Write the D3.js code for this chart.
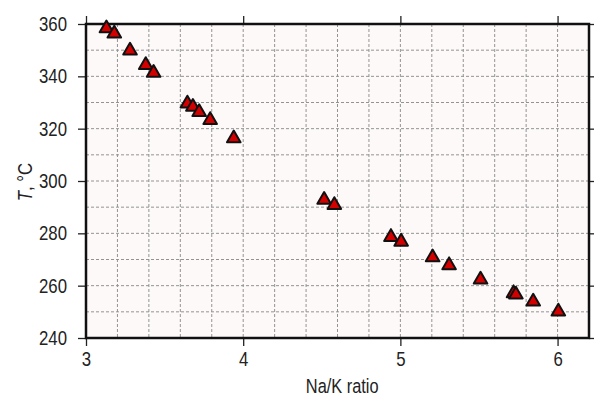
<!DOCTYPE html>
<html>
<head>
<meta charset="utf-8">
<script src="https://cdn.jsdelivr.net/npm/d3@7"></script>
<style>
  body { margin: 0; background: #fff; }
  text { font-family: "Liberation Sans", Arial, sans-serif; fill: #222; }
</style>
</head>
<body>
<script>
// Na/K ratio vs temperature
var naK = [3.13, 3.18, 3.28, 3.38, 3.43, 3.645, 3.68, 3.72, 3.79, 3.94,
           4.515, 4.58, 4.94, 5.005, 5.205, 5.31, 5.51, 5.72, 5.735, 5.845, 6.005];
var temp = [358.3, 356.3, 349.8, 344.3, 341.3, 329.6, 328.3, 326.3, 323.3, 316.3,
            292.8, 290.8, 278.6, 276.8, 270.8, 267.8, 262.3, 257.1, 256.6, 253.9, 250.1];

var xTicks = [3, 4, 5, 6];
var yTicks = [240, 260, 280, 300, 320, 340, 360];

const margin = {top: 24, bottom: 63, right: 5, left: 86},
    width = 594 - margin.left - margin.right,
    height = 401 - margin.top - margin.bottom;

var narrow = 0.84; // the labels use a condensed face

var svg = d3.select("body")
    .append("svg")
    .attr("width", 594)
    .attr("height", 401);

var g = svg.append("g")
    .attr("transform", "translate(" + margin.left + "," + margin.top + ")");

var x = d3.scaleLinear().domain([3, 6.2]).range([0, width]);
var y = d3.scaleLinear().domain([240, 360]).range([height, 0]);

// plot background
g.append("rect")
    .attr("width", width)
    .attr("height", height)
    .attr("fill", "#fdf9f9");

// dashed grid
g.append("g")
    .selectAll("line")
    .data(d3.range(3.2, 6.2, 0.2))
    .join("line")
    .attr("x1", d => x(d)).attr("x2", d => x(d))
    .attr("y1", 0).attr("y2", height)
    .attr("stroke", "#939393")
    .attr("stroke-width", 1)
    .attr("stroke-dasharray", "3,2");

g.append("g")
    .selectAll("line")
    .data(d3.range(250, 360, 10))
    .join("line")
    .attr("x1", 0).attr("x2", width)
    .attr("y1", d => y(d)).attr("y2", d => y(d))
    .attr("stroke", "#939393")
    .attr("stroke-width", 1)
    .attr("stroke-dasharray", "3,2");

// axes
var xAxis = g.append("g")
    .attr("transform", "translate(0," + height + ")")
    .call(d3.axisBottom(x).tickValues(xTicks).tickFormat(d3.format("d")).tickSize(8).tickPadding(6));

var yAxis = g.append("g")
    .call(d3.axisLeft(y).tickValues(yTicks).tickSize(8).tickPadding(11));

var topAxis = g.append("g")
    .call(d3.axisTop(x).tickValues(xTicks).tickSize(8).tickFormat(""));

var rightAxis = g.append("g")
    .attr("transform", "translate(" + width + ",0)")
    .call(d3.axisRight(y).tickValues(yTicks).tickSize(8).tickFormat(""));

[xAxis, yAxis, topAxis, rightAxis].forEach(function(a) {
    a.select(".domain").remove();
    a.selectAll("line").attr("stroke", "#222").attr("stroke-width", 1.3);
    a.selectAll("text").attr("font-size", 20)
        .attr("font-family", null)
        .attr("fill", "#222");
});

// squeeze the tick labels horizontally
yAxis.selectAll("text")
    .attr("x", 0)
    .attr("transform", "translate(-19,0) scale(" + narrow + ",1)");
xAxis.selectAll("text")
    .attr("transform", "scale(" + narrow + ",1)");

// frame
g.append("rect")
    .attr("width", width)
    .attr("height", height)
    .attr("fill", "none")
    .attr("stroke", "#111")
    .attr("stroke-width", 2.5);

// triangle markers
var tri = d3.symbol().type(d3.symbolTriangle).size(80);
g.append("g")
    .selectAll("path")
    .data(naK)
    .join("path")
    .attr("d", tri)
    .attr("transform", (d, i) => "translate(" + x(d) + "," + y(temp[i]) + ")")
    .attr("fill", "#d40000")
    .attr("stroke", "#111")
    .attr("stroke-width", 2)
    .attr("stroke-linejoin", "round");

// axis titles
svg.append("text")
    .attr("transform", "translate(" + (margin.left + x(4.63)) + ",393) scale(" + narrow + ",1)")
    .attr("text-anchor", "middle")
    .attr("font-size", 19.5)
    .text("Na/K ratio");

var yt = svg.append("text")
    .attr("transform", "translate(32,182) rotate(-90) scale(" + narrow + ",1)")
    .attr("text-anchor", "middle")
    .attr("font-size", 20);
yt.append("tspan").attr("font-style", "italic").text("T");
yt.append("tspan").text(", °C");
</script>
</body>
</html>
